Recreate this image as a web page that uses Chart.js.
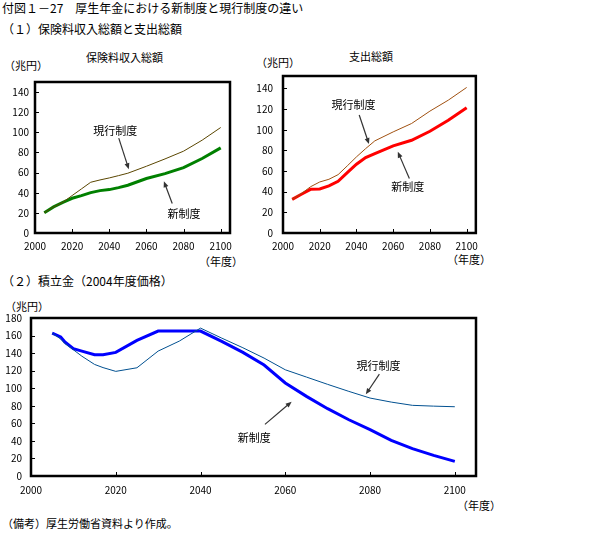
<!DOCTYPE html>
<html>
<head>
<meta charset="utf-8">
<script src="https://cdn.jsdelivr.net/npm/chart.js@4.4.1/dist/chart.umd.min.js"></script>
<style>
  body { margin: 0; background: #fff; font-family: "Noto Sans CJK JP", sans-serif; color: #000; }
  #page { position: relative; width: 600px; height: 550px; }
  .txt { position: absolute; white-space: nowrap; font-size: 11px; line-height: 14px; }
  .big { font-size: 12px; }
  canvas { position: absolute; }
</style>
</head>
<body>
<div id="page">
  <div class="txt big" style="left:2px; top:1px;">付図１－27　厚生年金における新制度と現行制度の違い</div>
  <div class="txt big" style="left:2px; top:22px;">（１）保険料収入総額と支出総額</div>
  <div class="txt" style="left:86px; top:50px;">保険料収入総額</div>
  <div class="txt" style="left:4px; top:58px;">（兆円）</div>
  <div class="txt" style="left:349px; top:49px;">支出総額</div>
  <div class="txt" style="left:256px; top:55px;">（兆円）</div>
  <div class="txt" style="left:199px; top:254px;">（年度）</div>
  <div class="txt" style="left:447px; top:252px;">（年度）</div>
  <div class="txt big" style="left:2px; top:274px;">（２）積立金（2004年度価格）</div>
  <div class="txt" style="left:5px; top:299px;">（兆円）</div>
  <div class="txt" style="left:457px; top:498px;">（年度）</div>
  <div class="txt" style="left:2px; top:516px;">（備考）厚生労働省資料より作成。</div>

  <canvas id="c1" width="240" height="190" style="left:0; top:70px;"></canvas>
  <canvas id="c2" width="240" height="200" style="left:245px; top:60px;"></canvas>
  <canvas id="c3" width="490" height="200" style="left:0; top:300px;"></canvas>
</div>
<script>
'use strict';

// DATA
var xTicks = [2000, 2020, 2040, 2060, 2080, 2100];
var yTicks1 = [0, 20, 40, 60, 80, 100, 120, 140];
var yTicks3 = [0, 20, 40, 60, 80, 100, 120, 140, 160, 180];

// (1) 保険料収入総額
var years1 = [2005, 2010, 2015, 2020, 2025, 2030, 2035, 2040, 2045, 2050, 2060, 2070, 2080, 2090, 2100];
var income1Current = [20.2, 25.9, 30.5, 37.2, 43.8, 50.4, 52.7, 54.7, 57.0, 59.4, 66.3, 73.6, 81.3, 92.2, 104.8];
var income1New = [20.2, 25.9, 30.5, 34.5, 37.1, 40.1, 42.1, 43.1, 45.1, 47.4, 54.1, 59.0, 65.0, 74.0, 84.6];

// (1) 支出総額
var years2 = [2005, 2010, 2015, 2020, 2025, 2030, 2035, 2040, 2045, 2050, 2060, 2070, 2080, 2090, 2100];
var spendCurrent = [32.6, 38.1, 44.8, 49.4, 52.0, 56.5, 65.0, 73.7, 81.7, 89.2, 97.9, 106.0, 118.0, 128.6, 140.9];
var spendNew = [32.6, 37.5, 42.3, 42.6, 45.6, 50.0, 58.5, 66.6, 73.0, 76.9, 84.3, 89.8, 98.5, 109.2, 121.2];

// (2) 積立金
var years3 = [2005, 2007, 2008, 2010, 2012, 2015, 2017, 2020, 2025, 2030, 2035, 2040, 2045, 2050, 2055, 2060, 2065, 2070, 2075, 2080, 2085, 2090, 2095, 2100];
var fundNew = [162.8, 158.5, 152.6, 145.0, 142.3, 138.1, 138.1, 140.8, 154.5, 165.1, 165.1, 165.1, 153.3, 140.8, 126.4, 106.0, 90.7, 76.7, 64.1, 52.8, 40.6, 31.1, 23.5, 16.7];
var fundCurrent = [162.8, 156.0, 151.0, 143.8, 136.5, 127.1, 123.5, 119.2, 123.3, 142.3, 153.7, 168.5, 157.1, 146.1, 134.3, 121.0, 112.7, 104.4, 96.4, 88.8, 84.2, 80.5, 79.6, 78.9];

var LABEL_CURRENT = '現行制度';
var LABEL_NEW = '新制度';

function pts(xs, ys) {
  var out = [];
  for (var i = 0; i < xs.length; i++) {
    out.push({ x: xs[i], y: ys[i] });
  }
  return out;
}

// FRAME + INWARD TICKS
var frameTicks = {
  id: 'frameTicks',
  afterDatasetsDraw: function (chart) {
    var ctx = chart.ctx;
    var a = chart.chartArea;
    var xs = chart.scales.x;
    var ys = chart.scales.y;
    ctx.save();
    ctx.strokeStyle = '#000';
    ctx.lineWidth = 1;
    ys.ticks.forEach(function (t) {
      var py = Math.round(ys.getPixelForValue(t.value)) + 0.5;
      ctx.beginPath();
      ctx.moveTo(a.left, py);
      ctx.lineTo(a.left + 4, py);
      ctx.stroke();
    });
    xs.ticks.forEach(function (t) {
      var px = Math.round(xs.getPixelForValue(t.value)) + 0.5;
      ctx.beginPath();
      ctx.moveTo(px, a.bottom);
      ctx.lineTo(px, a.bottom - 4);
      ctx.stroke();
    });
    ctx.lineWidth = 2.5;
    ctx.strokeRect(a.left, a.top, a.right - a.left, a.bottom - a.top);
    ctx.restore();
  }
};

// TEXT NOTES WITH ARROWS (in data coordinates)
var notes = {
  id: 'notes',
  afterDraw: function (chart, args, opts) {
    var ctx = chart.ctx;
    var xs = chart.scales.x;
    var ys = chart.scales.y;
    (opts.items || []).forEach(function (n) {
      ctx.save();
      ctx.font = '11px "Noto Sans CJK JP", sans-serif';
      ctx.fillStyle = '#000';
      ctx.textAlign = 'center';
      ctx.textBaseline = 'middle';
      ctx.fillText(n.text, xs.getPixelForValue(n.tx), ys.getPixelForValue(n.ty));
      var x0 = xs.getPixelForValue(n.from[0]), y0 = ys.getPixelForValue(n.from[1]);
      var x1 = xs.getPixelForValue(n.to[0]), y1 = ys.getPixelForValue(n.to[1]);
      var ang = Math.atan2(y1 - y0, x1 - x0);
      ctx.strokeStyle = '#333';
      ctx.fillStyle = '#333';
      ctx.lineWidth = 1.2;
      ctx.beginPath();
      ctx.moveTo(x0, y0);
      ctx.lineTo(x1 - 4 * Math.cos(ang), y1 - 4 * Math.sin(ang));
      ctx.stroke();
      ctx.beginPath();
      ctx.moveTo(x1, y1);
      ctx.lineTo(x1 - 6 * Math.cos(ang) + 2.5 * Math.sin(ang), y1 - 6 * Math.sin(ang) - 2.5 * Math.cos(ang));
      ctx.lineTo(x1 - 6 * Math.cos(ang) - 2.5 * Math.sin(ang), y1 - 6 * Math.sin(ang) + 2.5 * Math.cos(ang));
      ctx.closePath();
      ctx.fill();
      ctx.restore();
    });
  }
};

Chart.defaults.font.family = '"Noto Sans CJK JP", sans-serif';
Chart.defaults.color = '#000';

function makeChart(id, cfg) {
  return new Chart(document.getElementById(id), {
    type: 'line',
    data: {
      datasets: [
        { label: LABEL_CURRENT, data: pts(cfg.years, cfg.current), borderColor: cfg.curColor, borderWidth: 1, pointRadius: 0, tension: 0 },
        { label: LABEL_NEW, data: pts(cfg.years, cfg.fresh), borderColor: cfg.newColor, borderWidth: 3, pointRadius: 0, tension: 0 }
      ]
    },
    options: {
      responsive: false,
      animation: false,
      events: [],
      layout: { padding: cfg.padding },
      plugins: {
        legend: { display: false },
        tooltip: { enabled: false },
        notes: { items: cfg.notes }
      },
      scales: {
        x: {
          type: 'linear',
          min: 2000,
          max: 2105,
          grid: { display: false, drawTicks: false },
          border: { display: false },
          afterBuildTicks: function (s) { s.ticks = xTicks.map(function (v) { return { value: v }; }); },
          afterFit: function (s) { s.height = cfg.xHeight; },
          ticks: {
            font: { size: 10 }, padding: cfg.xPad, maxRotation: 0, autoSkip: false,
            callback: function (v) { return String(v); }
          }
        },
        y: {
          min: 0,
          max: cfg.yMax,
          grid: { display: false, drawTicks: false },
          border: { display: false },
          afterBuildTicks: function (s) { s.ticks = cfg.yTicks.map(function (v) { return { value: v }; }); },
          afterFit: function (s) { s.width = cfg.yWidth; },
          ticks: { font: { size: 10 }, padding: cfg.yPad }
        }
      }
    },
    plugins: [frameTicks, notes]
  });
}

makeChart('c1', {
  years: years1, current: income1Current, fresh: income1New,
  curColor: '#5a4600', newColor: '#008000',
  padding: { top: 12, right: 10, left: 0, bottom: 0 },
  yWidth: 35, xHeight: 27, xPad: 7, yPad: 6, yMax: 150, yTicks: yTicks1,
  notes: [
    { text: LABEL_CURRENT, tx: 2043.2, ty: 101.2, from: [2045.1, 94.2], to: [2050.5, 63.4] },
    { text: LABEL_NEW, tx: 2080.2, ty: 19.3, from: [2073.9, 29.3], to: [2069.4, 51.4] }
  ]
});

makeChart('c2', {
  years: years2, current: spendCurrent, fresh: spendNew,
  curColor: '#a05010', newColor: '#ff0000',
  padding: { top: 16, right: 5, left: 0, bottom: 0 },
  yWidth: 38, xHeight: 27, xPad: 7, yPad: 10, yMax: 152, yTicks: yTicks1,
  notes: [
    { text: LABEL_CURRENT, tx: 2038.4, ty: 123.9, from: [2041.5, 114.3], to: [2046.8, 86.1] },
    { text: LABEL_NEW, tx: 2067.9, ty: 44.7, from: [2068.8, 52.8], to: [2062.5, 78.7] }
  ]
});

makeChart('c3', {
  years: years3, current: fundCurrent, fresh: fundNew,
  curColor: '#005090', newColor: '#0000ff',
  padding: { top: 18, right: 14, left: 0, bottom: 0 },
  yWidth: 31, xHeight: 24, xPad: 8, yPad: 9, yMax: 180, yTicks: yTicks3,
  notes: [
    { text: LABEL_NEW, tx: 2052.7, ty: 43.9, from: [2055.2, 58.8], to: [2061.5, 84.6] },
    { text: LABEL_CURRENT, tx: 2082, ty: 125.8, from: [2082.2, 116], to: [2079, 93.1] }
  ]
});
</script>
</body>
</html>
